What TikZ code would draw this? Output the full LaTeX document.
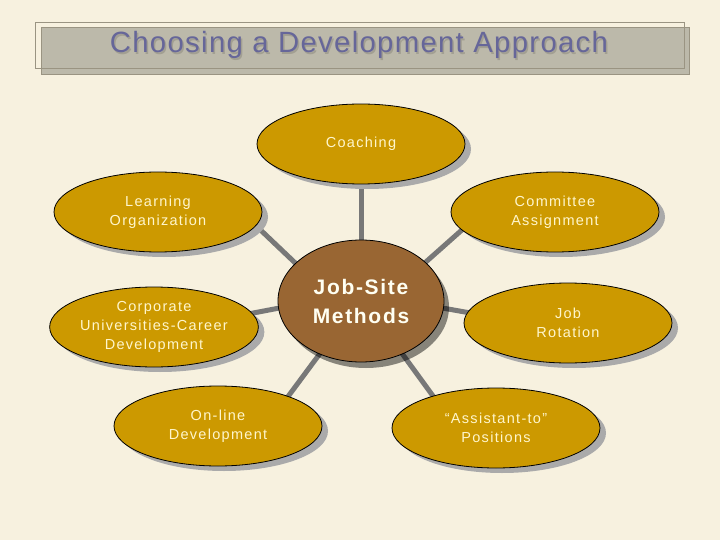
\documentclass[tikz,border=0pt]{standalone}
\usepackage{fontspec}
\setmainfont{Liberation Sans}
\newfontfamily\lblfont[LetterSpace=9]{Liberation Sans}
\newfontfamily\ctrfont[LetterSpace=8]{Liberation Sans}
\newfontfamily\ttlfont[LetterSpace=4.5]{Liberation Sans}
\usetikzlibrary{shapes.geometric,shadows}
\pgfdeclarelayer{background}
\pgfdeclarelayer{canvas}
\pgfsetlayers{canvas,background,main}
\definecolor{bgcol}{HTML}{F7F1DF}
\definecolor{gold}{HTML}{CC9900}
\definecolor{brownc}{HTML}{996633}
\definecolor{txtc}{HTML}{FFF6CC}
\definecolor{ctrtxt}{HTML}{FFFFF2}
\definecolor{connc}{HTML}{787878}
\definecolor{shgray}{HTML}{AAAAAA}
\definecolor{titlegray}{HTML}{BCB9AA}
\definecolor{framec}{HTML}{9A9482}
\definecolor{titletxt}{HTML}{666699}
\definecolor{titlesh}{HTML}{A29F92}
\tikzset{
  oval/.style={ellipse, draw=black, line width=0.8pt, fill=gold, text=txtc,
    minimum width=208pt, minimum height=80pt, inner sep=0pt, align=center,
    font=\lblfont\fontsize{14.5}{19}\selectfont,
    drop shadow={shadow xshift=6pt, shadow yshift=-5pt, fill=shgray, opacity=1}},
  hub/.style={ellipse, draw=black, line width=0.8pt, fill=brownc, text=ctrtxt,
    minimum width=166pt, minimum height=122pt, inner sep=0pt, align=center,
    font=\ctrfont\bfseries\fontsize{21}{29}\selectfont,
    drop shadow={shadow xshift=5pt, shadow yshift=-6pt, fill=black, opacity=0.45}},
  conn/.style={draw=connc, line width=5pt, shorten <=-5pt, shorten >=-5pt},
  ttl/.style={font=\ttlfont\fontsize{29.3}{34}\selectfont, inner sep=0pt}
}
\begin{document}
\begin{tikzpicture}[x=1pt,y=-1pt]
\useasboundingbox (0,0) rectangle (720,540);
\begin{pgfonlayer}{canvas}
\fill[bgcol] (0,0) rectangle (720,540);
\end{pgfonlayer}
% title
\draw[framec, fill=titlegray, line width=0.8pt] (41,27) rectangle (689,74);
\draw[framec, line width=0.8pt] (35,22) rectangle (684,68);
\node[ttl, text=titlesh] (titleshadow) at (360.5,46.5) {Choosing a Development Approach};
\node[ttl, text=titletxt] (title) at (359,45) {Choosing a Development Approach};
% nodes
\node[hub] (c) at (361,301) {Job-Site\\Methods};
\node[oval] (co) at (361,144) {Coaching};
\node[oval] (lo) at (158,212) {Learning\\Organization};
\node[oval] (cm) at (555,212) {Committee\\Assignment};
\node[oval] (cu) at (154,327) {Corporate\\Universities-Career\\Development};
\node[oval] (jr) at (568,323) {Job\\Rotation};
\node[oval] (ol) at (218,426) {On-line\\Development};
\node[oval] (as) at (496,428) {“Assistant-to”\\Positions};
% connectors
\begin{pgfonlayer}{background}
\draw[conn] (co) -- (c);
\draw[conn] (lo.-8) -- (c.150);
\draw[conn] (c.31) -- (cm.191);
\draw[conn] (c.-5) -- (jr.174);
\draw[conn] (c.-52) -- (as.153);
\draw[conn] (c.232) -- (ol.23);
\draw[conn] (cu.8) -- (c.185);
\end{pgfonlayer}
\end{tikzpicture}
\end{document}
